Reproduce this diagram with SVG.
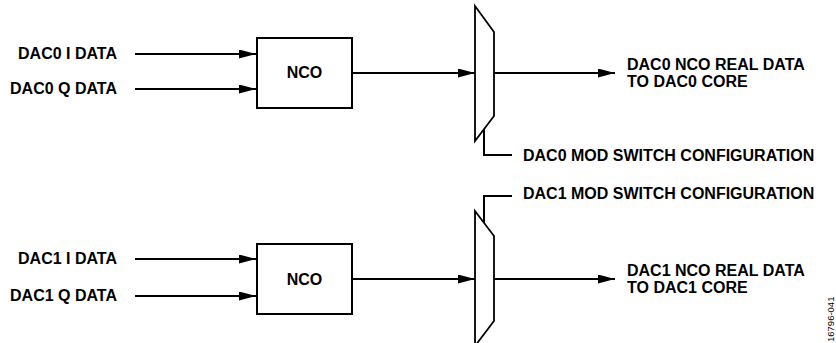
<svg xmlns="http://www.w3.org/2000/svg" width="836" height="343" viewBox="0 0 836 343">
<style>
.lbl{font-family:"Liberation Sans",Arial,sans-serif;font-weight:bold;font-size:16px;fill:#000}
.ln{stroke:#000;stroke-width:2;fill:none}
.box{stroke:#000;stroke-width:2;fill:#fff}
.mux{stroke:#000;stroke-width:1.8;fill:#fff;stroke-linejoin:miter}
.fig{font-family:"Liberation Sans",Arial,sans-serif;font-size:9.5px;fill:#000}
</style>
<defs>
<marker id="ah" viewBox="0 0 17 9" refX="17" refY="4.5" markerWidth="17" markerHeight="9" markerUnits="userSpaceOnUse" orient="auto">
<path d="M0,0 L17,4.5 L0,9 z" fill="#000"/>
</marker>
</defs>
<rect width="836" height="343" fill="#fff"/>
<g id="connectors">
<line class="ln" x1="135" y1="54" x2="256" y2="54" marker-end="url(#ah)"/>
<line class="ln" x1="135" y1="89" x2="256" y2="89" marker-end="url(#ah)"/>
<line class="ln" x1="352" y1="73" x2="475" y2="73" marker-end="url(#ah)"/>
<line class="ln" x1="494" y1="73" x2="615" y2="73" marker-end="url(#ah)"/>
<polyline class="ln" points="484,129 484,155 512,155"/>
<line class="ln" x1="135" y1="259" x2="256" y2="259" marker-end="url(#ah)"/>
<line class="ln" x1="135" y1="296" x2="256" y2="296" marker-end="url(#ah)"/>
<line class="ln" x1="352" y1="279" x2="475" y2="279" marker-end="url(#ah)"/>
<line class="ln" x1="494" y1="279" x2="615" y2="279" marker-end="url(#ah)"/>
<polyline class="ln" points="484,223 484,196 512,196"/>
</g>
<g id="in0">
<text class="lbl" x="117" y="59" text-anchor="end">DAC0 I DATA</text>
<text class="lbl" x="117" y="94" text-anchor="end">DAC0 Q DATA</text>
</g>
<g id="nco0">
<rect class="box" x="257" y="38" width="95" height="70"/>
<text class="lbl" x="304.5" y="78" text-anchor="middle">NCO</text>
</g>
<g id="mux0">
<polygon class="mux" points="475,6 494,32 494,116 475,141"/>
</g>
<g id="out0">
<text class="lbl" x="627" y="70">DAC0 NCO REAL DATA</text>
<text class="lbl" x="627" y="87">TO DAC0 CORE</text>
</g>
<g id="cfg0">
<text class="lbl" x="523" y="161">DAC0 MOD SWITCH CONFIGURATION</text>
</g>
<g id="in1">
<text class="lbl" x="117" y="264" text-anchor="end">DAC1 I DATA</text>
<text class="lbl" x="117" y="301" text-anchor="end">DAC1 Q DATA</text>
</g>
<g id="nco1">
<rect class="box" x="257" y="244" width="95" height="70"/>
<text class="lbl" x="304.5" y="285" text-anchor="middle">NCO</text>
</g>
<g id="mux1">
<polygon class="mux" points="475,211 494,236 494,321 475,346"/>
</g>
<g id="out1">
<text class="lbl" x="627" y="276">DAC1 NCO REAL DATA</text>
<text class="lbl" x="627" y="293">TO DAC1 CORE</text>
</g>
<g id="cfg1">
<text class="lbl" x="523" y="199">DAC1 MOD SWITCH CONFIGURATION</text>
</g>
<text class="fig" transform="translate(834,342) rotate(-90)">16796-041</text>
</svg>
